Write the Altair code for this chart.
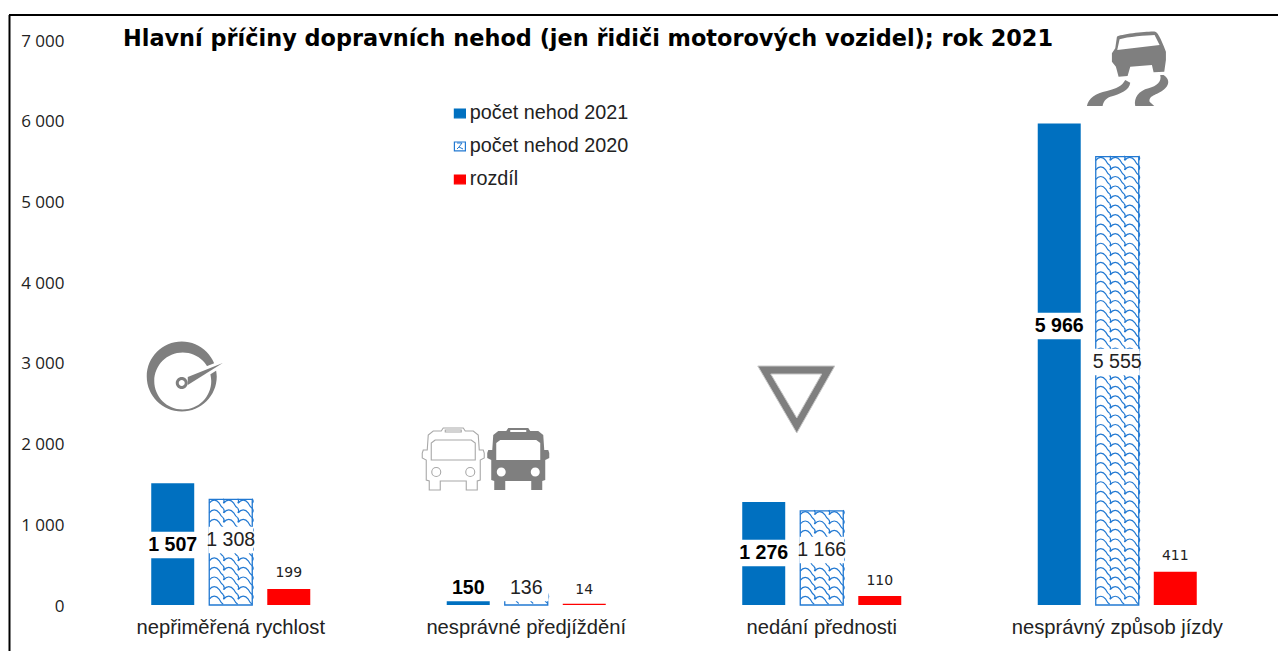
import re
import altair as alt
import pandas as pd

# ---- data ----
categories = ["nepřiměřená rychlost", "nesprávné předjíždění", "nedání přednosti", "nesprávný způsob jízdy"]
series_names = ["počet nehod 2021", "počet nehod 2020", "rozdíl"]
values_2021 = [1507, 150, 1276, 5966]
values_2020 = [1308, 136, 1166, 5555]
values_diff = [199, 14, 110, 411]
title_text = "Hlavní příčiny dopravních nehod (jen řidiči motorových vozidel); rok 2021"

# ---- layout ----
BLUE, RED, HATCH, GREY = "#0070c0", "#ff0000", "#2279d2", "#7f7f7f"
W, H = 1182, 565
OX, OY = 83, 40
PX = H / 7000
centers = [231.0, 526.0, 822.0, 1117.0]

label_2021 = [744, 210, 644, 3457]
label_2020 = [805, 210, 681, 3011]
label_diff = [396, 185, 297, 607]
GAP = 155

def fmt(v):
    return f"{v:,}".replace(",", " ")

rows = []
for i, c in enumerate(categories):
    rows.append(dict(cat=c, s=series_names[0], v=values_2021[i], ly=label_2021[i], gap=True, t=fmt(values_2021[i])))
    rows.append(dict(cat=c, s=series_names[1], v=values_2020[i], ly=label_2020[i], gap=True, t=fmt(values_2020[i])))
    rows.append(dict(cat=c, s=series_names[2], v=values_diff[i], ly=label_diff[i], gap=False, t=fmt(values_diff[i])))
df = pd.DataFrame(rows)
gaps = df[df.gap].assign(lo=lambda d: d.ly - GAP, hi=lambda d: d.ly + GAP)

xenc = alt.X("cat:N", sort=categories, title=None,
             scale=alt.Scale(paddingInner=0.411, paddingOuter=0.2055),
             axis=alt.Axis(domain=False, ticks=False, labelAngle=0, labelFont="Liberation Sans",
                           labelFontSize=20.2, labelColor="#222222", labelPadding=12, labelLimit=400))
xoff = alt.XOffset("s:N", sort=series_names, title=None,
                   scale=alt.Scale(paddingInner=0.259, paddingOuter=0.1295))
yscale = alt.Scale(domain=[0, 7000], nice=False)
yaxis = alt.Axis(domain=False, ticks=False, grid=False, values=[0, 1000, 2000, 3000, 4000, 5000, 6000, 7000],
                 labelExpr="replace(format(datum.value, ','), ',', ' ')", labelOffset=1,
                 labelFont="Open Sans", labelFontSize=17, labelColor="#222222", labelPadding=19)
yenc = alt.Y("v:Q", title=None, scale=yscale, axis=yaxis)

legend = alt.Legend(title=None, orient="none", legendX=367, legendY=63.5, symbolType="M-1,-0.8H1V0.8H-1Z",
                    symbolSize=121, symbolStrokeWidth=1.2, labelFont="Liberation Sans", labelFontSize=19.8,
                    labelColor="#222222", labelOffset=0, rowPadding=12, padding=0)
bars = alt.Chart(df).mark_bar().encode(
    x=xenc, xOffset=xoff, y=yenc,
    fill=alt.Fill("s:N", sort=series_names,
                  scale=alt.Scale(domain=series_names, range=[BLUE, "rgba(255,255,255,0)", RED]), legend=legend),
    stroke=alt.Stroke("s:N", sort=series_names, scale=alt.Scale(domain=series_names, range=[BLUE, HATCH, RED]), legend=legend),
    strokeWidth=alt.condition(alt.datum.s == series_names[1], alt.value(1.3), alt.value(0)),
)

# ---- shingle pattern of the 2020 bars ----
def pattern_row():
    out = []
    for tx in (-14.5, 0, 14.5):
        out.append(f"M{tx-7:.1f} -1C{tx-4:.1f} -5 {tx:.1f} -5 {tx+3:.1f} -1C{tx+4:.1f} 1 {tx+5:.1f} 3 {tx+7:.1f} 4")
        out.append(f"M{tx+7:.1f} -5.5C{tx+8:.1f} -4 {tx+8:.1f} -2 {tx+7:.1f} -1")
    return "".join(out)

pat = []
for c, v in zip(categories, values_2020):
    n = max(1, round(v * PX / 9.5))
    for i in range(n):
        pat.append(dict(cat=c, s=series_names[1], v=(i + 0.5) * v / n))
pat_df = pd.DataFrame(pat)
hatch = alt.Chart(pat_df).mark_point(shape=pattern_row(), size=4, filled=False, stroke=HATCH, strokeWidth=1.2, opacity=1).encode(x=xenc, xOffset=xoff, y=yenc)

gap_bars = alt.Chart(gaps).mark_bar(color="white", stroke="white", strokeWidth=1.5).encode(
    x=xenc, xOffset=xoff, y=alt.Y("lo:Q", title=None, scale=yscale, axis=yaxis), y2="hi:Q")

def labels(series, **kw):
    return alt.Chart(df[df.s == series]).mark_text(**kw).encode(
        x=xenc, xOffset=xoff, y=alt.Y("ly:Q", title=None, scale=yscale, axis=yaxis), text="t:N")

lab_a = labels(series_names[0], font="Liberation Sans", fontSize=19.6, fontWeight="bold", color="#000000")
lab_b = labels(series_names[1], font="Liberation Sans", fontSize=19.6, color="#222222")
lab_c = labels(series_names[2], font="DejaVu Sans", fontSize=14, color="#222222")

# ---- icons: outlines are given in page pixels and moved to each icon's anchor ----
def move(path, ax, ay, s=1.0, ox=0.0, oy=0.0):
    nums = iter(range(10 ** 6))
    def sub(m):
        i = next(nums)
        val = float(m.group())
        return f"{(ox + val * s - ax) if i % 2 == 0 else (oy + val * s - ay):.2f}"
    return re.sub(r"-?\d+\.?\d*", sub, path)

def circle(cx, cy, r, cw=True):
    k = 0.5523 * r
    if cw:
        return (f"M{cx-r} {cy}C{cx-r} {cy-k} {cx-k} {cy-r} {cx} {cy-r}C{cx+k} {cy-r} {cx+r} {cy-k} {cx+r} {cy}"
                f"C{cx+r} {cy+k} {cx+k} {cy+r} {cx} {cy+r}C{cx-k} {cy+r} {cx-r} {cy+k} {cx-r} {cy}Z")
    return (f"M{cx-r} {cy}C{cx-r} {cy+k} {cx-k} {cy+r} {cx} {cy+r}C{cx+k} {cy+r} {cx+r} {cy+k} {cx+r} {cy}"
            f"C{cx+r} {cy-k} {cx+k} {cy-r} {cx} {cy-r}C{cx-k} {cy-r} {cx-r} {cy-k} {cx-r} {cy}Z")

def bus(cx, cy):
    half = [(-10,-31),(10,-31),(12,-28),(20,-28),(25,-24),(26,-9),(30,-9),(31,-6),(31,-1),(27,1),(27,21),(24,22),(24,31),(13,31),(13,22)]
    pts = half + [(-x, y) for x, y in reversed(half)]
    outer = "M" + "L".join(f"{cx+x} {cy+y}" for x, y in pts) + "Z"
    shield = [(-18,-19),(-22,-16),(-22,1),(22,1),(22,-16),(18,-19)]
    slot = [(-8,-29),(-8,-27),(8,-27),(8,-29)]
    holes = ""
    for h in (shield, slot):
        holes += "M" + "L".join(f"{cx+x} {cy+y}" for x, y in h) + "Z"
    holes += circle(cx - 17, cy + 13, 4.5, False) + circle(cx + 17, cy + 13, 4.5, False)
    return outer + holes

car = ("M290 80C300 72 395 62 405 65C412 67 420 80 437 125L437 150L432 185L400 187L395 165L330 170L322 198L295 200L287 170"
       "L275 155L275 130L285 115ZM298 88L291 120L418 105L403 75C380 76 320 80 298 88Z"
       "M200 288C205 265 225 250 260 243C290 235 305 228 315 210L330 218C328 240 300 252 270 260C255 266 250 275 247 288Z"
       "M345 288C340 265 355 242 385 235C410 228 425 215 420 195L430 195C445 205 450 220 435 235C415 255 385 255 388 275L402 288Z")

def icon(cat_i, level, path, **kw):
    ax, ay = centers[cat_i], OY + H - level * PX
    style = dict(fill=GREY, strokeWidth=0, opacity=1, size=4)
    style.update(kw)
    d = pd.DataFrame({"cat": [categories[cat_i]], "v": [level]})
    return alt.Chart(d).mark_point(shape=move(path, ax, ay), **style).encode(x=xenc, y=yenc)

needle = "M188 377L223 363L188 385Z"
icons = [
    icon(0, 2800, circle(182, 376.5, 35) + circle(183, 381, 28.5, False)),
    icon(0, 2800, needle, fill="white", stroke="white", strokeWidth=6),
    icon(0, 2800, needle),
    icon(0, 2800, circle(182, 383, 6) + circle(182, 383, 3, False)),
    icon(1, 1800, bus(453, 459), fill="white", stroke="#a8a8a8", strokeWidth=1.1),
    icon(1, 1800, bus(518, 459)),
    icon(2, 2500, "M758 366L835 366L797 433ZM771 374L797 418L822 374Z", stroke="#c8c8c8", strokeWidth=1, strokeJoin="round"),
    alt.Chart(pd.DataFrame({"cat": [categories[3]], "v": [6500]})).mark_point(
        shape=move(car, centers[3], OY + H - 6500 * PX, 1 / 3, 1020, 10), fill=GREY, strokeWidth=0, opacity=1, size=4
    ).encode(x=xenc, y=yenc),
]

# small swirl inside the legend's 2020 key
key_mark = alt.Chart(pd.DataFrame({"a": [0]})).mark_point(
    shape="M-3 -3L2 -3L-1 1L3 3M-3 3L-1 1", size=4, filled=False, stroke=HATCH, strokeWidth=1, opacity=1
).encode(x=alt.value(460 - OX), y=alt.value(146 - OY))

# ---- outer frame: only top and left sides fall inside the picture ----
frame_top = alt.Chart(pd.DataFrame({"a": [0]})).mark_rule(color="#000000", strokeWidth=2).encode(
    x=alt.value(9 - OX), x2=alt.value(1286 - OX), y=alt.value(15 - OY))
frame_left = alt.Chart(pd.DataFrame({"a": [0]})).mark_rule(color="#000000", strokeWidth=2).encode(
    x=alt.value(9.5 - OX), y=alt.value(15 - OY), y2=alt.value(651 - OY))

chart = alt.layer(
    key_mark, bars, hatch, gap_bars, lab_a, lab_b, lab_c, *icons, frame_top, frame_left
).properties(
    width=W, height=H, background="white",
    title=alt.TitleParams(title_text, font="DejaVu Sans", fontSize=22.4, fontWeight="bold", color="#000000",
                          anchor="start", frame="group", dx=40, dy=36, offset=0),
    padding={"left": OX - 8, "top": OY - 8, "right": 1270 - (OX - 8) - W, "bottom": 651 - OY - H},
    autosize=alt.AutoSizeParams(type="none"),
).configure_view(stroke=None)

chart.save("out.html", embed_options={"renderer": "svg", "actions": False})
